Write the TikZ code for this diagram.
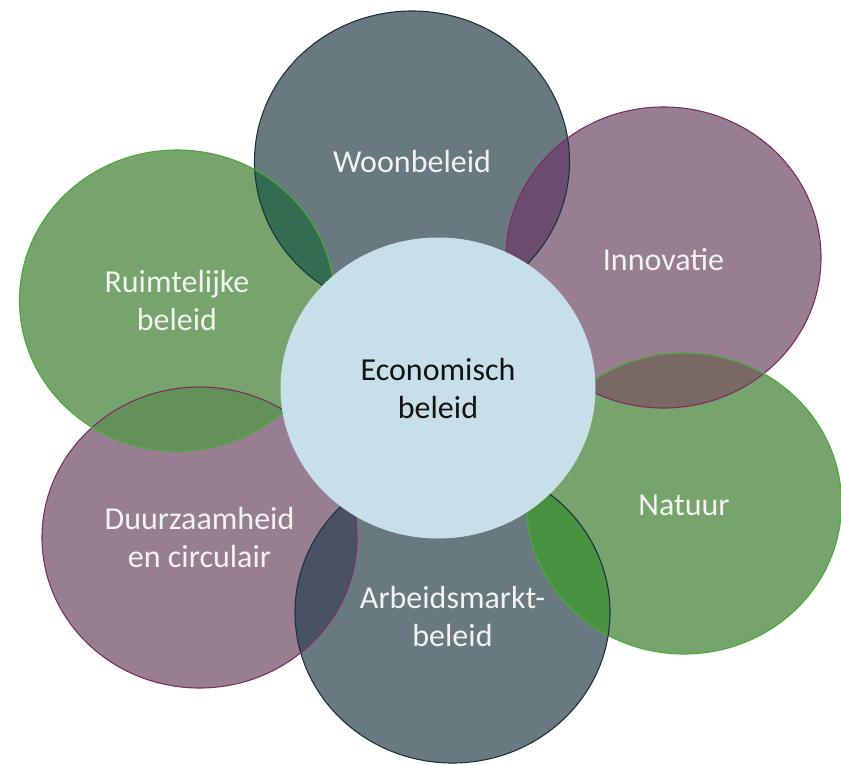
\documentclass[tikz,border=0pt]{standalone}
\usepackage{fontspec}
\setmainfont{Carlito}
\definecolor{slatefill}{RGB}{104,121,127}
\definecolor{slateline}{RGB}{27,52,64}
\definecolor{mauvefill}{RGB}{151,126,144}
\definecolor{mauveline}{RGB}{125,47,96}
\definecolor{greenfill}{RGB}{118,164,108}
\definecolor{greenline}{RGB}{74,170,58}
\definecolor{centerfill}{RGB}{199,223,233}
\definecolor{ovwr}{RGB}{52,108,82}
\definecolor{ovwi}{RGB}{105,76,110}
\definecolor{ovin}{RGB}{121,105,100}
\definecolor{ovna}{RGB}{72,145,65}
\definecolor{ovad}{RGB}{72,82,100}
\definecolor{ovdr}{RGB}{100,145,90}
\tikzset{
  blob/.style={x radius=157.5pt, y radius=150.5pt},
  lbl/.style={text=white!95!black, font=\fontsize{32}{38}\selectfont, align=center, inner sep=0pt},
  clbl/.style={text=black!92, font=\fontsize{32}{38}\selectfont, align=center, inner sep=0pt},
  edge/.style={line width=1.1pt}
}
\begin{document}
\begin{tikzpicture}[x=1pt,y=-1pt]
\useasboundingbox (0,0) rectangle (841,765);
\coordinate (woon) at (412,161.5);
\coordinate (inno) at (663.5,257.5);
\coordinate (natu) at (684,503.5);
\coordinate (arbe) at (452.5,612.5);
\coordinate (duur) at (199.5,537.5);
\coordinate (ruim) at (177,300.5);
\coordinate (econ) at (438,388);
% fills
\fill[slatefill] (woon) ellipse [blob];
\fill[mauvefill] (inno) ellipse [blob];
\fill[greenfill] (natu) ellipse [blob];
\fill[slatefill] (arbe) ellipse [blob];
\fill[mauvefill] (duur) ellipse [blob];
\fill[greenfill] (ruim) ellipse [blob];
% overlaps
\begin{scope}\clip (woon) ellipse [blob]; \fill[ovwr] (ruim) ellipse [blob];\end{scope}
\begin{scope}\clip (woon) ellipse [blob]; \fill[ovwi] (inno) ellipse [blob];\end{scope}
\begin{scope}\clip (inno) ellipse [blob]; \fill[ovin] (natu) ellipse [blob];\end{scope}
\begin{scope}\clip (natu) ellipse [blob]; \fill[ovna] (arbe) ellipse [blob];\end{scope}
\begin{scope}\clip (arbe) ellipse [blob]; \fill[ovad] (duur) ellipse [blob];\end{scope}
\begin{scope}\clip (duur) ellipse [blob]; \fill[ovdr] (ruim) ellipse [blob];\end{scope}
% borders
\draw[edge, slateline] (woon) ellipse [blob];
\draw[edge, mauveline] (inno) ellipse [blob];
\draw[edge, greenline] (natu) ellipse [blob];
\draw[edge, slateline] (arbe) ellipse [blob];
\draw[edge, mauveline] (duur) ellipse [blob];
\draw[edge, greenline] (ruim) ellipse [blob];
% centre
\fill[centerfill] (econ) ellipse [blob];
% labels
\node[lbl] (twoon) at (woon) {Woonbeleid};
\node[lbl] (tinno) at ([yshift=-2]inno) {Innovatie};
\node[lbl] (tnatu) at ([yshift=-2]natu) {Natuur};
\node[lbl] (tarbe) at ([yshift=-4]arbe) {Arbeidsmarkt-\\beleid};
\node[lbl] (tduur) at (duur) {Duurzaamheid\\en circulair};
\node[lbl] (truim) at (ruim) {Ruimtelijke\\beleid};
\node[clbl] (tecon) at (econ) {Economisch\\beleid};
\end{tikzpicture}
\end{document}
